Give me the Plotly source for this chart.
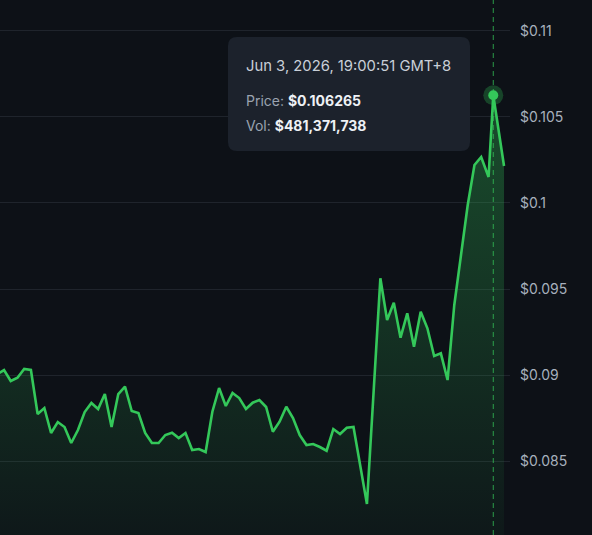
import plotly.graph_objects as go

# ---- data ----
x_idx = [0, 1, 2, 3, 4, 5, 6, 7, 8, 9, 10, 11, 12, 13, 14, 15, 16, 17, 18, 19,
         20, 21, 22, 23, 24, 25, 26, 27, 28, 29, 30, 31, 32, 33, 34, 35, 36, 37, 38, 39,
         40, 41, 42, 43, 44, 45, 46, 47, 48, 49, 50, 51, 52, 53, 55, 57, 58, 59, 60, 61,
         62, 63, 64, 65, 66, 67, 68, 69, 70, 71, 72, 73.1, 73.8, 75.4]
price = [0.090058, 0.090291, 0.089651, 0.089843, 0.090349, 0.090291, 0.087733, 0.088081,
         0.086628, 0.087267, 0.086977, 0.086047, 0.086802, 0.087849, 0.088372, 0.088023,
         0.088895, 0.086977, 0.088895, 0.089320, 0.087907, 0.087791, 0.086628, 0.086047,
         0.086047, 0.086512, 0.086645, 0.086337, 0.086628, 0.085640, 0.085698, 0.085523,
         0.087866, 0.089244, 0.088198, 0.088953, 0.088663, 0.088023, 0.088390, 0.088547,
         0.088140, 0.086703, 0.087285, 0.088157, 0.087500, 0.086512, 0.085930, 0.085988,
         0.085814, 0.085599, 0.086860, 0.086570, 0.086936, 0.086977, 0.082500, 0.095622,
         0.093198, 0.094203, 0.092169, 0.093587, 0.091645, 0.093680, 0.092715, 0.091105,
         0.091262, 0.089709, 0.094070, 0.096977, 0.099884, 0.102209, 0.102674, 0.101512,
         0.106265, 0.102151]
hover_i = 72
hover_time = "Jun 3, 2026, 19:00:51 GMT+8"
hover_price = "$0.106265"
hover_vol = "$481,371,738"
tick_vals = [0.085, 0.09, 0.095, 0.1, 0.105, 0.11]
tick_text = ["$0.085", "$0.09", "$0.095", "$0.1", "$0.105", "$0.11"]

W, H = 592, 535
PW = 510  # plot width in px
GREEN = "#34c85a"
BG = "#0d1117"
Y_RANGE = [0.08070, 0.11180]
X_RANGE = [0.40, 76.29]

fig = go.Figure()
fig.add_trace(go.Scatter(
    x=x_idx, y=price, mode="lines",
    line=dict(color=GREEN, width=2.6),
    fill="tozeroy",
    fillgradient=dict(type="vertical", start=Y_RANGE[0], stop=max(price),
                      colorscale=[[0, "rgba(52,200,90,0.04)"], [1, "rgba(52,200,90,0.33)"]]),
    hoverinfo="skip", showlegend=False,
))
# hover marker halo + dot
hx, hy = x_idx[hover_i], price[hover_i]
fig.add_trace(go.Scatter(x=[hx], y=[hy], mode="markers",
                         marker=dict(size=20, color="rgba(52,200,90,0.28)"),
                         hoverinfo="skip", showlegend=False))
fig.add_trace(go.Scatter(x=[hx], y=[hy], mode="markers",
                         marker=dict(size=10, color=GREEN),
                         hoverinfo="skip", showlegend=False))

# dashed vertical crosshair
fig.add_shape(type="line", xref="x", yref="paper", x0=hx, x1=hx, y0=0, y1=1,
              line=dict(color="rgba(52,200,90,0.75)", width=1, dash="5px,4px"), layer="above")

# tooltip box (rounded)
def px2p(px, py):
    return px / PW, 1 - py / H

x0, y0, x1, y1, r = 228, 37, 470, 151, 9
rx, ry = r / PW, r / H
ax0, ay0 = px2p(x0, y0)
ax1, ay1 = px2p(x1, y1)
path = (f"M {ax0+rx},{ay0} L {ax1-rx},{ay0} Q {ax1},{ay0} {ax1},{ay0-ry} "
        f"L {ax1},{ay1+ry} Q {ax1},{ay1} {ax1-rx},{ay1} L {ax0+rx},{ay1} "
        f"Q {ax0},{ay1} {ax0},{ay1+ry} L {ax0},{ay0-ry} Q {ax0},{ay0} {ax0+rx},{ay0} Z")
fig.add_shape(type="path", path=path, xref="paper", yref="paper",
              fillcolor="#1c222c", line=dict(width=0), layer="above")

FONT = "Inter, 'Noto Sans', sans-serif"
tx = 244 / PW
fig.add_annotation(xref="paper", yref="paper", x=tx, y=1 - 66 / H, xanchor="left", yanchor="middle",
                   text=hover_time, showarrow=False,
                   font=dict(family=FONT, size=14.8, color="#c9cfd8"))
fig.add_annotation(xref="paper", yref="paper", x=tx, y=1 - 100 / H, xanchor="left", yanchor="middle",
                   text=f"<span style='color:#9aa3b0'>Price: </span><b>{hover_price}</b>", showarrow=False,
                   font=dict(family=FONT, size=14, color="#eef1f5"))
fig.add_annotation(xref="paper", yref="paper", x=tx, y=1 - 125 / H, xanchor="left", yanchor="middle",
                   text=f"<span style='color:#9aa3b0'>Vol: </span><b>{hover_vol}</b>", showarrow=False,
                   font=dict(family=FONT, size=14, color="#eef1f5"))

fig.update_layout(
    width=W, height=H,
    margin=dict(l=0, r=W - PW, t=0, b=0),
    paper_bgcolor=BG, plot_bgcolor=BG,
    xaxis=dict(range=X_RANGE, visible=False, showgrid=False, zeroline=False),
    yaxis=dict(range=Y_RANGE, side="right", tickvals=tick_vals, ticktext=tick_text,
               showgrid=True, gridcolor="#1f242c", gridwidth=1, zeroline=False,
               showline=False, ticks="", ticklabelstandoff=9,
               tickfont=dict(family=FONT, size=14, color="#a7b0bd")),
    font=dict(family=FONT),
)

fig.write_html("out.html")
